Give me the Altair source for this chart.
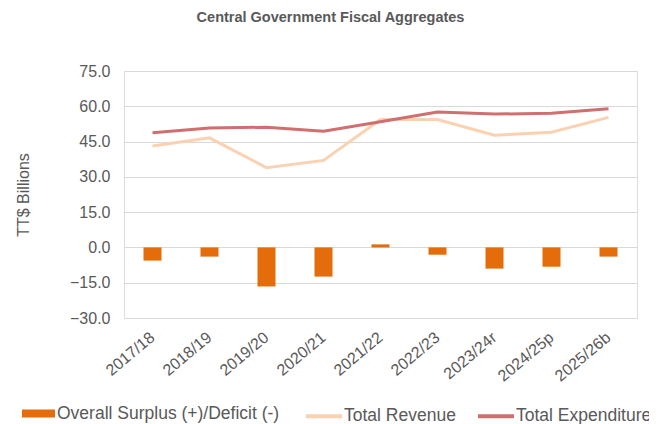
import altair as alt
import pandas as pd

years = ["2017/18", "2018/19", "2019/20", "2020/21", "2021/22",
         "2022/23", "2023/24r", "2024/25p", "2025/26b"]
balance = [-5.6, -3.9, -16.6, -12.4, 1.3, -3.1, -9.0, -8.2, -3.9]
revenue = [43.1, 46.6, 33.9, 37.0, 54.4, 54.4, 47.7, 49.0, 55.3]
expenditure = [48.7, 50.8, 51.1, 49.4, 53.4, 57.6, 56.7, 57.0, 59.0]
y_ticks = [-30, -15, 0, 15, 30, 45, 60, 75]

bar_name = "Overall Surplus (+)/Deficit (-)"
line_names = ["Total Revenue", "Total Expenditure"]

bar_df = pd.DataFrame({"year": years, "value": balance, "series": bar_name})
line_df = pd.concat([
    pd.DataFrame({"year": years, "value": revenue, "series": line_names[0], "idx": range(len(years))}),
    pd.DataFrame({"year": years, "value": expenditure, "series": line_names[1], "idx": range(len(years))}),
])

GRAY = "#595959"
FONT = "Liberation Sans"

x_axis = alt.Axis(labelAngle=-40, labelAlign="right", labelBaseline="middle",
                  labelFontSize=16, labelColor=GRAY, labelFont=FONT,
                  labelPadding=17, ticks=False, domain=False, grid=False)
y_scale = alt.Scale(domain=[-30, 75], nice=False, zero=False)
y_axis = alt.Axis(values=y_ticks, tickCount=8, format=".1f", labelOverlap=False,
                  labelFontSize=16, labelColor=GRAY, labelFont=FONT, labelPadding=14,
                  ticks=False, domain=False, gridColor="#D9D9D9", gridWidth=1,
                  title="TT$ Billions", titleFont=FONT, titleFontSize=16,
                  titleFontWeight="normal", titleColor=GRAY, titlePadding=38)

bars = alt.Chart(bar_df).mark_bar(size=18).encode(
    x=alt.X("year:N", sort=years, title=None, axis=x_axis),
    y=alt.Y("value:Q", scale=y_scale, axis=y_axis),
    fill=alt.Fill("series:N", scale=alt.Scale(domain=[bar_name], range=["#E46C0A"]),
                  legend=alt.Legend(title=None, orient="none", legendX=-102, legendY=326,
                                    direction="horizontal",
                                    symbolType="M-1,-0.24H1V0.24H-1Z", symbolSize=1089,
                                    symbolStrokeWidth=0, labelLimit=400,
                                    labelFont=FONT, labelFontSize=17.5, labelColor=GRAY,
                                    labelOffset=2)),
)

lines = alt.Chart(line_df).mark_line(strokeWidth=3).encode(
    x=alt.X("year:N", sort=years, title=None, axis=x_axis),
    y=alt.Y("value:Q", scale=y_scale, axis=y_axis),
    stroke=alt.Stroke("series:N",
                      scale=alt.Scale(domain=line_names, range=["#FAD2B2", "#CF6F6F"]),
                      legend=alt.Legend(title=None, orient="none", legendX=180, legendY=325,
                                        direction="horizontal", symbolType="stroke",
                                        symbolSize=1296, symbolStrokeWidth=4,
                                        columnPadding=14, labelLimit=400,
                                        labelFont=FONT, labelFontSize=17.5, labelColor=GRAY,
                                        labelOffset=0)),
    order=alt.Order("idx:Q"),
)

chart = alt.layer(bars, lines).properties(
    width=513, height=247,
    autosize=alt.AutoSizeParams(type="none"),
    padding={"left": 116, "top": 63, "right": 12, "bottom": 110},
    title=alt.TitleParams("Central Government Fiscal Aggregates", font=FONT, fontSize=14.5,
                          fontWeight="bold", color=GRAY, anchor="middle", dx=-50, offset=38),
).configure_view(stroke="#D9D9D9").configure(background="white")

chart.save("out.html", embed_options={"renderer": "svg", "actions": False})
